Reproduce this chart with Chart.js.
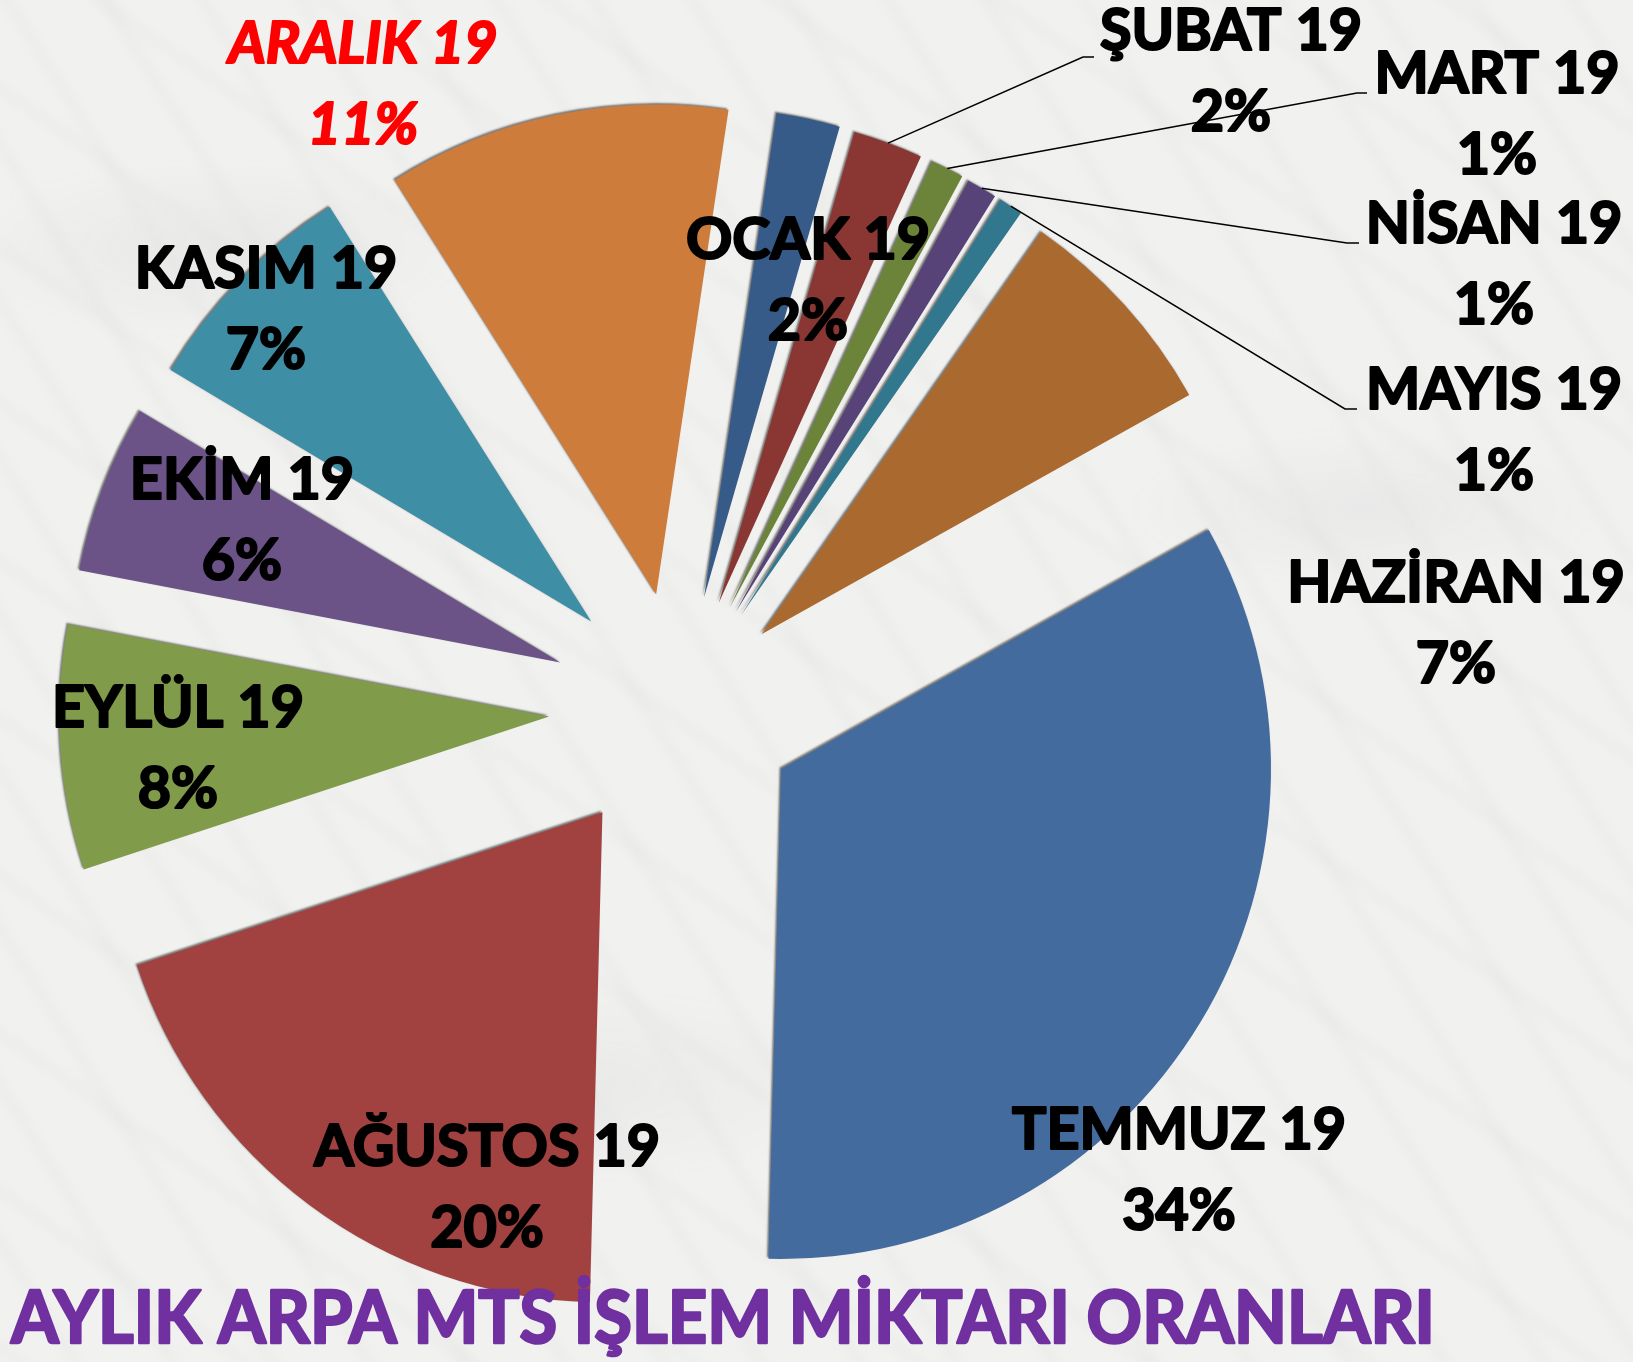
<!DOCTYPE html>
<html>
<head>
<meta charset="utf-8">
<script src="https://cdn.jsdelivr.net/npm/chart.js@4/dist/chart.umd.min.js"></script>
<style>
  html, body { margin: 0; padding: 0; }
  body { width: 1633px; height: 1362px; overflow: hidden; background: #f1f1f0; }
  #marble {
    position: absolute; left: -40px; top: -40px; width: 1713px; height: 1442px;
    filter: blur(6px);
    background-image:
      repeating-linear-gradient(58deg, rgba(160,160,155,0) 0px, rgba(160,160,155,0) 30px, rgba(160,160,155,0.09) 36px, rgba(160,160,155,0) 42px, rgba(160,160,155,0) 83px),
      repeating-linear-gradient(35deg, rgba(160,160,155,0) 0px, rgba(160,160,155,0) 60px, rgba(160,160,155,0.07) 67px, rgba(160,160,155,0) 74px, rgba(160,160,155,0) 129px),
      radial-gradient(ellipse 260px 90px at 15% 20%, rgba(140,140,135,0.08), transparent),
      radial-gradient(ellipse 240px 80px at 82% 38%, rgba(140,140,135,0.07), transparent),
      radial-gradient(ellipse 300px 100px at 35% 78%, rgba(140,140,135,0.07), transparent);
  }
  #wrap { position: absolute; left: 0; top: 0; width: 1633px; height: 1362px; }
</style>
</head>
<body>
<div id="marble"></div>
<div id="wrap"><canvas id="pie" width="1633" height="1362"></canvas></div>
<script>
// months, Jan -> Dec 2019
const months = ["OCAK 19", "ŞUBAT 19", "MART 19", "NİSAN 19", "MAYIS 19", "HAZİRAN 19",
                "TEMMUZ 19", "AĞUSTOS 19", "EYLÜL 19", "EKİM 19", "KASIM 19", "ARALIK 19"];
// share of yearly volume, in percent
const shares = [2.1, 2.3, 1.1, 1.0, 0.8, 7.2, 33.45, 19.5, 8.05, 5.55, 7.45, 11.3];
const sliceColors = ["#365b88", "#8a3734", "#6c833a", "#584379", "#31788f", "#aa692f",
                     "#446b9e", "#a14241", "#809c4b", "#6b5388", "#3e8ea6", "#ce7c3b"];
const chartTitle = "AYLIK ARPA MTS İŞLEM MİKTARI ORANLARI";
const highlight = 11; // ARALIK in red italic

// layout: how far each slice is pulled out, label anchors, leader elbows
const explode = [113, 112, 112, 111, 111, 110, 118, 130, 131, 128, 124, 116];
const labelAt = [[808, 259], [1231, 50], [1497, 93], [1494, 243], [1494, 409], [1456, 602],
                 [1179, 1149], [487, 1166], [178, 727], [242, 499], [266, 288], [363, 63]];
const elbows = [null, [1083, 57, 1094], [1357, 93, 1367], [1347, 243, 1359], [1345, 409, 1357],
                null, null, null, null, null, null, null];

const explodePlugin = {
  id: 'explode',
  afterUpdate(chart) {
    const a = chart.chartArea;
    const cx = (a.left + a.right) / 2, cy = (a.top + a.bottom) / 2;
    chart.getDatasetMeta(0).data.forEach((arc, i) => {
      const mid = (arc.startAngle + arc.endAngle) / 2;
      arc.x = cx + Math.cos(mid) * explode[i];
      arc.y = cy + Math.sin(mid) * explode[i];
    });
  },
  beforeDatasetsDraw(chart) {
    const c = chart.ctx;
    c.save();
    c.shadowColor = 'rgba(0,0,0,0.5)';
    c.shadowBlur = 2;
    c.shadowOffsetX = -1.5;
    c.shadowOffsetY = -1.5;
  },
  afterDatasetsDraw(chart) {
    chart.ctx.restore();
  }
};

function boldText(c, txt, x, y) {
  c.strokeText(txt, x, y);
  c.fillText(txt, x, y);
}

const labelPlugin = {
  id: 'sliceLabels',
  afterDraw(chart) {
    const c = chart.ctx;
    const meta = chart.getDatasetMeta(0);
    const total = shares.reduce((a, b) => a + b, 0);
    c.save();
    c.strokeStyle = '#000';
    c.lineWidth = 1.5;
    meta.data.forEach((arc, i) => {
      const e = elbows[i];
      if (!e) return;
      const mid = (arc.startAngle + arc.endAngle) / 2;
      c.beginPath();
      c.moveTo(arc.x + Math.cos(mid) * arc.outerRadius, arc.y + Math.sin(mid) * arc.outerRadius);
      c.lineTo(e[0], e[1]);
      c.lineTo(e[2], e[1]);
      c.stroke();
    });
    c.textAlign = 'center';
    c.textBaseline = 'alphabetic';
    c.lineJoin = 'round';
    // fit label width to the reference ("TEMMUZ 19" is about 338px wide)
    c.font = '700 58px Lato';
    const sx = 334 / c.measureText('TEMMUZ 19').width;
    months.forEach((m, i) => {
      const [x, y] = labelAt[i];
      const pct = Math.round(shares[i] / total * 100) + '%';
      c.font = (i === highlight ? 'italic ' : '') + '700 58px Lato';
      c.fillStyle = c.strokeStyle = i === highlight ? '#ff0000' : '#000000';
      c.lineWidth = 2.2;
      c.save();
      c.translate(x, y);
      c.scale(sx, 1);
      boldText(c, m, 0, 0);
      boldText(c, pct, 0, 81);
      c.restore();
    });
    // title, squeezed to the reference width
    c.font = '700 72px Lato';
    c.fillStyle = c.strokeStyle = '#7030a0';
    c.lineWidth = 2.6;
    c.textAlign = 'left';
    const w = c.measureText(chartTitle).width;
    c.translate(11, 1343);
    c.scale(1424 / w, 1);
    boldText(c, chartTitle, 0, 0);
    c.restore();
  }
};

new Chart(document.getElementById('pie'), {
  type: 'pie',
  data: {
    labels: months,
    datasets: [{
      data: shares,
      backgroundColor: sliceColors,
      borderWidth: 0,
      radius: 490
    }]
  },
  options: {
    responsive: false,
    animation: false,
    rotation: 8.5,
    layout: { padding: { left: 0, right: 273, top: 54, bottom: 0 } },
    plugins: { legend: { display: false }, tooltip: { enabled: false } }
  },
  plugins: [explodePlugin, labelPlugin]
});
</script>
</body>
</html>
